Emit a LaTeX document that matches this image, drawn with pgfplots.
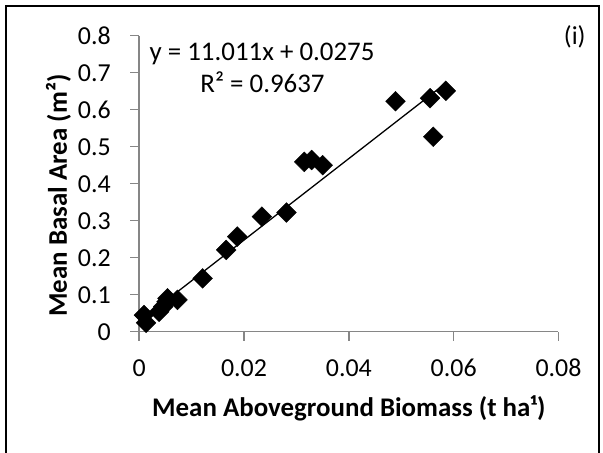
\documentclass[border=0pt]{standalone}
\usepackage{fontspec}
\setmainfont{Carlito}
\usepackage{pgfplots}
\pgfplotsset{compat=1.18}
\definecolor{axisgray}{HTML}{868686}

\begin{document}
\begin{tikzpicture}
\useasboundingbox (0,0) rectangle (603bp,453bp);
% outer chart frame
\draw[line width=1.8bp] (6bp,-5bp) -- (6bp,447bp) -- (599bp,447bp) -- (599bp,-5bp);
\begin{axis}[
  at={(139.2bp,121.3bp)}, anchor=origin,
  scale only axis, width=419.3bp, height=296bp,
  xmin=0, xmax=0.08, ymin=0, ymax=0.8,
  xtick={0,0.02,0.04,0.06,0.08},
  ytick={0,0.1,0.2,0.3,0.4,0.5,0.6,0.7,0.8},
  axis x line*=bottom, axis y line*=left,
  axis line style={draw=axisgray, line width=1.4bp},
  every tick/.style={draw=axisgray, line width=1.4bp},
  tick align=outside, major tick length=9bp,
  ticklabel style={font=\fontsize{26}{26}\selectfont},
  xticklabel style={yshift=-15bp},
  yticklabel style={xshift=-16bp},
  /pgf/number format/assume math mode=true,
  /pgf/number format/fixed, /pgf/number format/precision=2,
  scaled ticks=false,
  xlabel={Mean Aboveground Biomass (t ha¹)},
  ylabel={Mean Basal Area (m²)},
  label style={font=\bfseries\fontsize{27}{27}\selectfont},
  xlabel style={at={(axis description cs:0.5,-0.2848)}, anchor=base},
  ylabel style={at={(axis description cs:-0.1722,0.46)}, anchor=base},
  clip=false,
]
% trend line y = 11.011x + 0.0275 over the data range
\addplot[black, line width=1.3bp] coordinates {(0.0008,0.0363) (0.0585,0.6716)};
\addplot[only marks, mark=square*, mark size=7bp,
  mark options={rotate=45, fill=black, draw=black}] coordinates {
  (0.0009,0.045) (0.0013,0.024) (0.0038,0.054) (0.0046,0.068)
  (0.0054,0.090) (0.0052,0.081) (0.0073,0.086)
  (0.0121,0.144) (0.0166,0.221) (0.0187,0.257) (0.0234,0.311)
  (0.0281,0.322) (0.0315,0.459) (0.0329,0.464) (0.0350,0.450)
  (0.0489,0.623) (0.0555,0.631) (0.0561,0.527) (0.0585,0.651)
};
\node[font=\fontsize{27}{27}\selectfont, anchor=base] at (axis cs:0.02344,0.7343) {y = 11.011x + 0.0275};
\node[font=\fontsize{27}{27}\selectfont, anchor=base] at (axis cs:0.02353,0.646) {R² = 0.9637};
\node[font=\fontsize{26}{26}\selectfont] at (axis cs:0.0831,0.7965) {(i)};
\end{axis}
\end{tikzpicture}
\end{document}
